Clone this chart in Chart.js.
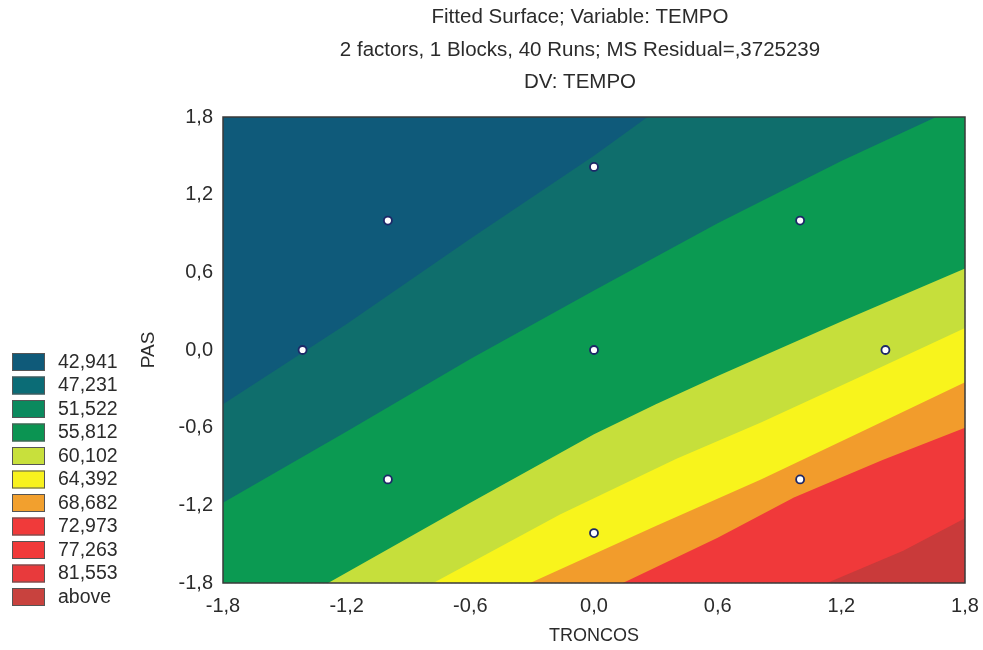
<!DOCTYPE html>
<html>
<head>
<meta charset="utf-8">
<script src="https://cdn.jsdelivr.net/npm/chart.js@4.4.0/dist/chart.umd.min.js"></script>
<style>
  html, body { margin: 0; padding: 0; background: #fff; }
</style>
</head>
<body>
<canvas id="contour" width="983" height="650"></canvas>
<script>
const titleLines = [
  'Fitted Surface; Variable: TEMPO',
  '2 factors, 1 Blocks, 40 Runs; MS Residual=,3725239',
  'DV: TEMPO',
];
const xTitle = 'TRONCOS';
const yTitle = 'PAS';
const tickValues = [-1.8, -1.2, -0.6, 0, 0.6, 1.2, 1.8];

const levelLabels = ['42,941', '47,231', '51,522', '55,812', '60,102', '64,392',
  '68,682', '72,973', '77,263', '81,553', 'above'];

// contour boundaries (coded units), clipped to the plot frame
const c1X = [-1.8, -1.2, -0.6, 0, 0.26, 1.8];
const c1Y = [-0.42, 0.2, 0.86, 1.5, 1.8, 1.8];
const c2X = [-1.8, -1.2, -0.6, 0, 0.6, 1.2, 1.66, 1.8];
const c2Y = [-1.18, -0.63, -0.07, 0.46, 0.98, 1.46, 1.8, 1.8];
const c3X = [-1.8, -1.29, -0.6, 0, 0.3, 0.6, 1.2, 1.8];
const c3Y = [-1.8, -1.8, -1.18, -0.65, -0.42, -0.2, 0.22, 0.63];
const c4X = [-1.8, -0.78, -0.165, 0.4, 0.81, 1.3, 1.8];
const c4Y = [-1.8, -1.8, -1.27, -0.84, -0.56, -0.2, 0.17];
const c5X = [-1.8, -0.31, 0.3, 0.81, 1.3, 1.8];
const c5Y = [-1.8, -1.8, -1.36, -1.0, -0.63, -0.25];
const c6X = [-1.8, 0.14, 0.6, 0.97, 1.4, 1.8];
const c6Y = [-1.8, -1.8, -1.45, -1.14, -0.85, -0.6];
const c7X = [-1.8, 1.13, 1.5, 1.8];
const c7Y = [-1.8, -1.8, -1.55, -1.3];

// design points
const runX = [-1.414, -1, -1, 0, 0, 0, 1, 1, 1.414];
const runY = [0, 1, -1, 1.414, 0, -1.414, 1, -1, 0];

const legendColors = ['#0f5a79', '#0b6c76', '#0b8a5e', '#0b9452', '#c8e03c', '#f8f21e',
  '#f2a02e', '#f03a3a', '#f03a3a', '#e83a3c', '#c8423e'];
const baseColor = '#0f5a7a';
const bandColors = ['#0f6e6c', '#0b9a52', '#c6df3b', '#f8f41c', '#f29c2c', '#f0393a', '#c93a3a'];

const fontFamily = '"Liberation Sans", Arial, sans-serif';
const textColor = '#2b2b2b';

const toPts = (xs, ys) => xs.map((x, i) => ({ x, y: ys[i] }));
const fmt = v => v.toFixed(1).replace('.', ',');

const contours = [
  [c1X, c1Y], [c2X, c2Y], [c3X, c3Y], [c4X, c4Y], [c5X, c5Y], [c6X, c6Y], [c7X, c7Y],
];

// fills are painted from last dataset to first, so the innermost band goes first in the list
const bandDatasets = contours.map(([xs, ys], i) => ({
  type: 'line',
  data: toPts(xs, ys),
  fill: 'start',
  backgroundColor: bandColors[i],
  borderWidth: 0,
  pointRadius: 0,
  tension: 0,
})).reverse();

const pointDataset = {
  type: 'line',
  data: toPts(runX, runY),
  showLine: false,
  pointRadius: 4,
  pointBorderWidth: 1.8,
  pointBackgroundColor: '#ffffff',
  pointBorderColor: '#1d2868',
};

const decorPlugin = {
  id: 'decor',
  beforeDatasetsDraw(chart) {
    const { ctx, chartArea: a } = chart;
    ctx.save();
    ctx.fillStyle = baseColor;
    ctx.fillRect(a.left, a.top, a.right - a.left, a.bottom - a.top);
    ctx.restore();
  },
  afterDraw(chart) {
    const { ctx, chartArea: a } = chart;
    ctx.save();
    // frame
    ctx.strokeStyle = '#3a3a3a';
    ctx.lineWidth = 1.5;
    ctx.strokeRect(a.left, a.top, a.right - a.left, a.bottom - a.top);

    // title
    ctx.fillStyle = textColor;
    ctx.font = '20.5px ' + fontFamily;
    ctx.textAlign = 'center';
    ctx.textBaseline = 'middle';
    const titleY = [17, 50, 82];
    titleLines.forEach((t, i) => ctx.fillText(t, 580, titleY[i]));

    // legend
    ctx.font = '19.5px ' + fontFamily;
    ctx.textAlign = 'left';
    levelLabels.forEach((lab, i) => {
      const y = 353 + i * 23.5;
      ctx.fillStyle = legendColors[i];
      ctx.fillRect(12, y, 33, 18);
      ctx.strokeStyle = '#555';
      ctx.lineWidth = 1;
      ctx.strokeRect(12.5, y + 0.5, 32, 17);
      ctx.fillStyle = textColor;
      ctx.fillText(lab, 58, y + 9.5);
    });
    ctx.restore();
  },
};

const axisCommon = {
  type: 'linear',
  min: -1.8,
  max: 1.8,
  z: 1,
  afterBuildTicks: scale => { scale.ticks = tickValues.map(v => ({ value: v })); },
  grid: { color: 'rgba(215,240,235,0.35)', drawTicks: false },
  border: { display: false, dash: [1, 3] },
};

const tickFont = { family: fontFamily, size: 20 };
const titleFont = { family: fontFamily, size: 18 };

const contourConfig = {
  type: 'line',
  data: { datasets: [pointDataset, ...bandDatasets] },
  options: {
    responsive: false,
    animation: false,
    layout: { padding: { left: 130, top: 117, right: 18, bottom: 0 } },
    plugins: {
      legend: { display: false },
      title: { display: false },
      tooltip: { enabled: false },
    },
    scales: {
      x: {
        ...axisCommon,
        afterFit: scale => {
          scale.height = 67;
          scale.paddingLeft = 0;
          scale.paddingRight = 0;
        },
        ticks: {
          padding: 11,
          maxRotation: 0,
          color: textColor,
          font: tickFont,
          callback: fmt,
        },
        title: {
          display: true,
          text: xTitle,
          color: textColor,
          font: titleFont,
          padding: { top: 0, bottom: 3 },
        },
      },
      y: {
        ...axisCommon,
        afterFit: scale => { scale.width = 93; },
        ticks: {
          padding: 10,
          color: textColor,
          font: tickFont,
          callback: fmt,
        },
        title: {
          display: true,
          text: yTitle,
          color: textColor,
          font: { family: fontFamily, size: 19 },
          padding: { top: 7, bottom: 0 },
        },
      },
    },
  },
  plugins: [decorPlugin],
};

const contourCtx = document.getElementById('contour');
window.contourChart = new Chart(contourCtx, contourConfig);
</script>
</body>
</html>
